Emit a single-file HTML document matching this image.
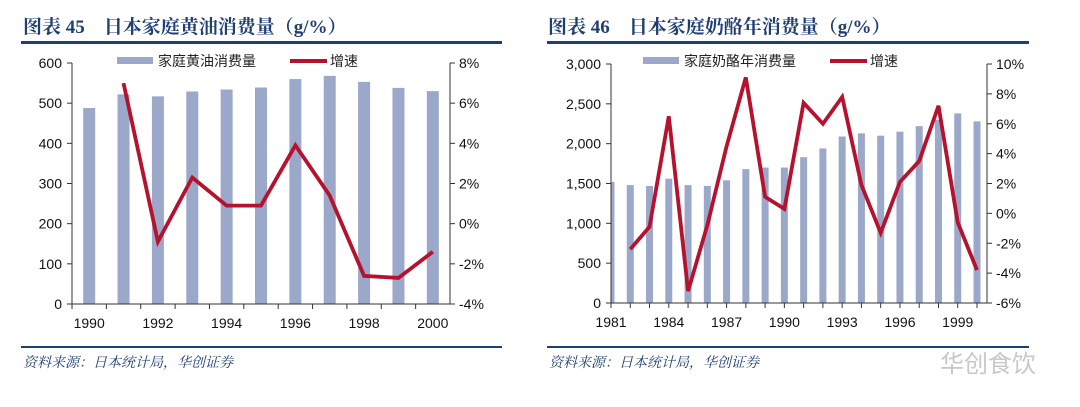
<!DOCTYPE html>
<html><head><meta charset="utf-8">
<style>
body{margin:0;width:1080px;height:407px;background:#fff;overflow:hidden;}
svg{display:block;}
.ttl{font-family:"Liberation Serif","Noto Serif CJK SC",serif;font-weight:bold;font-size:19px;fill:#1f3f73;}
.ax{font-family:"Liberation Sans",sans-serif;font-size:14px;fill:#111;}
.lg{font-family:"Liberation Sans","Noto Sans CJK SC",sans-serif;font-size:14px;fill:#222;}
.src{font-family:"Liberation Serif","Noto Serif CJK SC",serif;font-style:italic;font-size:14px;fill:#1f3f73;}
</style></head><body>
<svg id="s" width="1080" height="407" xmlns="http://www.w3.org/2000/svg">
<text class="ttl" x="23" y="33">图表 45　日本家庭黄油消费量（g/%）</text>
<rect x="21" y="41" width="481" height="3" fill="#1f3f73"/>
<rect x="21" y="346" width="481" height="2" fill="#1f3f73"/>
<text class="src" x="23" y="367">资料来源：日本统计局，华创证券</text>
<text class="ttl" x="548" y="33">图表 46　日本家庭奶酪年消费量（g/%）</text>
<rect x="547" y="41" width="482" height="3" fill="#1f3f73"/>
<rect x="547" y="346" width="482" height="2" fill="#1f3f73"/>
<text class="src" x="549" y="367">资料来源：日本统计局，华创证券</text>
<text x="940" y="372" font-family="Liberation Sans,Noto Sans CJK SC,sans-serif" font-size="24" fill="#c8c8c8">华创食饮</text>
<g id="c1"></g><g id="c2"></g>
</svg>
<script>
const years1=[1990,1991,1992,1993,1994,1995,1996,1997,1998,1999,2000];
const butter=[488,522,517,529,534,539,560,568,553,538,530];
const butterGrowth=[null,7.0,-0.9,2.3,0.9,0.9,3.9,1.4,-2.6,-2.7,-1.4];
const ticksL1=[0,100,200,300,400,500,600];
const ticksR1=[-4,-2,0,2,4,6,8];
const xlab1=[1990,1992,1994,1996,1998,2000];

const years2=[1981,1982,1983,1984,1985,1986,1987,1988,1989,1990,1991,1992,1993,1994,1995,1996,1997,1998,1999,2000];
const cheese=[1520,1480,1470,1560,1480,1470,1540,1680,1700,1700,1830,1940,2090,2130,2100,2150,2220,2300,2380,2280];
const cheeseGrowth=[null,-2.4,-0.9,6.5,-5.2,-0.8,4.5,9.1,1.1,0.3,7.4,6.0,7.8,1.9,-1.3,2.1,3.5,7.2,-0.6,-3.8];
const ticksL2=[0,500,1000,1500,2000,2500,3000];
const ticksR2=[-6,-4,-2,0,2,4,6,8,10];
const xlab2=[1981,1984,1987,1990,1993,1996,1999];

const NS="http://www.w3.org/2000/svg";
function mk(p,t,a){const e=document.createElementNS(NS,t);for(const k in a)e.setAttribute(k,a[k]);p.appendChild(e);return e;}

function draw(g,o){
  const {x0,x1,yT,yB,years,bars,growth,tl,tr,xl,lmax,rmin,rmax,centered,fmtL,barW,nm,legBar,legLine}=o;
  const n=years.length;
  const step=centered?(x1-x0)/n:(x1-x0-10)/(n-1);
  const xs=i=>centered?x0+step*(i+0.5):x0+step*i;
  const yl=v=>yB-(v/lmax)*(yB-yT);
  const yr=v=>yB-(v-rmin)/(rmax-rmin)*(yB-yT);
  const cp=mk(g,'clipPath',{id:'cp'+nm});mk(cp,'rect',{x:x0,y:0,width:x1-x0,height:400});
  const bg=mk(g,'g',{'clip-path':'url(#cp'+nm+')'});
  bars.forEach((v,i)=>{
    const r=mk(bg,'rect',{x:xs(i)-barW/2,y:yl(v),width:barW,height:yB-yl(v),fill:'#9ca8c9'});
    
    
  });
  mk(g,'line',{x1:x0,y1:yT,x2:x0,y2:yB,stroke:'#333','stroke-width':1});
  mk(g,'line',{x1:x1,y1:yT,x2:x1,y2:yB,stroke:'#333','stroke-width':1});
  mk(g,'line',{x1:x0,y1:yB,x2:x1,y2:yB,stroke:'#333','stroke-width':1});
  tl.forEach(v=>{mk(g,'line',{x1:x0-5,y1:yl(v),x2:x0,y2:yl(v),stroke:'#333'});
    const t=mk(g,'text',{x:x0-10,y:yl(v)+5,'text-anchor':'end',class:'ax'});t.textContent=fmtL(v);
    
    });
  tr.forEach(v=>{mk(g,'line',{x1:x1,y1:yr(v),x2:x1+5,y2:yr(v),stroke:'#333'});
    const t=mk(g,'text',{x:x1+9,y:yr(v)+5,class:'ax'});t.textContent=v+'%';
    
    });
  for(let i=0;i<=n;i++){const tx=centered?x0+step*i:xs(i);if(tx<=x1)mk(g,'line',{x1:tx,y1:yB,x2:tx,y2:yB+5,stroke:'#333'});}
  xl.forEach(y=>{const i=years.indexOf(y);const t=mk(g,'text',{x:xs(i),y:yB+24,'text-anchor':'middle',class:'ax'});t.textContent=y;
    
    });
  let d='';growth.forEach((v,i)=>{if(v==null)return;d+=(d?'L':'M')+xs(i).toFixed(1)+' '+yr(v).toFixed(1);});
  const p=mk(g,'path',{d:d,fill:'none',stroke:'#b5122e','stroke-width':3.8,'stroke-linejoin':'miter'});
  
  
  const lr=mk(g,'rect',{x:legBar,y:57,width:36,height:7,fill:'#9ca8c9'});
  
  
  const lt=mk(g,'text',{x:legBar+41,y:66,class:'lg'});lt.textContent=o.barLabel;
  
  
  const ll=mk(g,'line',{x1:legLine,y1:61,x2:legLine+37,y2:61,stroke:'#b5122e','stroke-width':4});
  
  
  const lt2=mk(g,'text',{x:legLine+40,y:66,class:'lg'});lt2.textContent='增速';
  
  
}
draw(document.getElementById('c1'),{x0:72,x1:450,yT:63,yB:304,years:years1,bars:butter,growth:butterGrowth,tl:ticksL1,tr:ticksR1,xl:xlab1,lmax:600,rmin:-4,rmax:8,centered:true,fmtL:v=>String(v),barW:12,nm:'a',legBar:117,legLine:290,barLabel:'家庭黄油消费量'});
draw(document.getElementById('c2'),{x0:611,x1:987,yT:64,yB:303,years:years2,bars:cheese,growth:cheeseGrowth,tl:ticksL2,tr:ticksR2,xl:xlab2,lmax:3000,rmin:-6,rmax:10,centered:false,fmtL:v=>v.toLocaleString('en-US'),barW:7,nm:'b',legBar:643,legLine:830,barLabel:'家庭奶酪年消费量'});
</script>
</body></html>
